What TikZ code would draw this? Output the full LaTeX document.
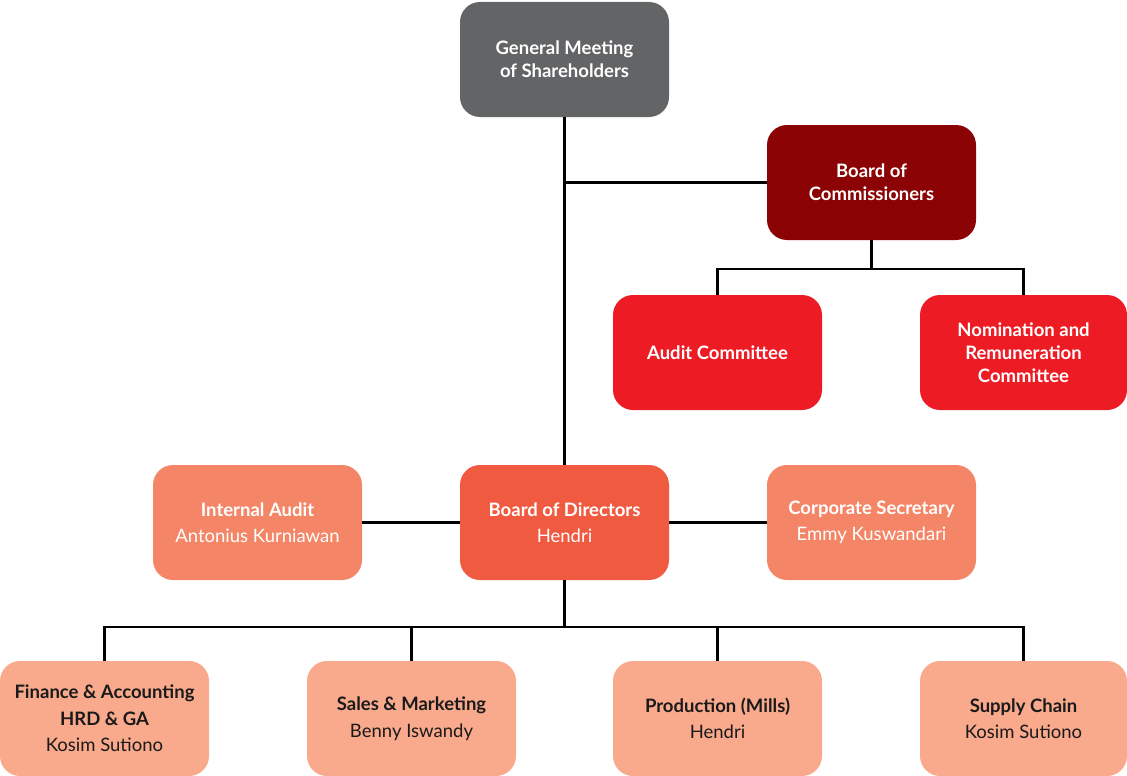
\documentclass[tikz,border=0pt]{standalone}
\usepackage{fontspec}
\setmainfont{Lato}
\definecolor{cgray}{HTML}{636466}
\definecolor{cboc}{HTML}{8B0304}
\definecolor{ccom}{HTML}{ED1C24}
\definecolor{cbod}{HTML}{F05A40}
\definecolor{cside}{HTML}{F48667}
\definecolor{cdiv}{HTML}{F9A98C}
\definecolor{ctext}{HTML}{1A1A1A}
\begin{document}
\begin{tikzpicture}[x=1pt,y=-1pt,
  box/.style={rectangle,rounded corners=20pt,minimum width=209pt,minimum height=115pt,
    inner sep=0pt,align=center,font=\fontsize{18.5}{26.5}\selectfont,text=white},
  titlebox/.style={box,font=\fontsize{18.5}{23}\selectfont},
  divbox/.style={box,fill=cdiv,text=ctext},
  conn/.style={line width=2.6pt}]
\useasboundingbox (0,0) rectangle (1127,776);
\node[titlebox,fill=cgray] (gms) at (564.5,59.5) {\bfseries General Meeting\\\bfseries of Shareholders};
\node[titlebox,fill=cboc] (boc) at (871.5,182.5) {\bfseries Board of\\\bfseries Commissioners};
\node[titlebox,fill=ccom] (ac) at (717.5,352.5) {\bfseries Audit Committee};
\node[titlebox,fill=ccom,minimum width=207pt] (nrc) at (1023.5,352.5) {\bfseries Nomination and\\\bfseries Remuneration\\\bfseries Committee};
\node[box,fill=cside] (ia) at (257.5,522.5) {\bfseries Internal Audit\\Antonius Kurniawan};
\node[box,fill=cbod] (bod) at (564.5,522.5) {\bfseries Board of Directors\\Hendri};
\node[box,fill=cside] (cs) at (871.5,522.5) {\bfseries Corporate Secretary\\Emmy Kuswandari};
\node[divbox] (fin) at (104.5,718.5) {\bfseries Finance \& Accounting\\\bfseries HRD \& GA\\Kosim Sutiono};
\node[divbox] (sal) at (411.5,718.5) {\bfseries Sales \& Marketing\\Benny Iswandy};
\node[divbox] (pro) at (717.5,718.5) {\bfseries Production (Mills)\\Hendri};
\node[divbox,minimum width=207pt] (sup) at (1023.5,718.5) {\bfseries Supply Chain\\Kosim Sutiono};
% connectors
\draw[conn] (gms.south) -- (bod.north);
\draw[conn] (gms.south |- boc.west) -- (boc.west);
\coordinate (cbus) at (871.5,269);
\draw[conn] (boc.south) -- (cbus);
\draw[conn] (ac.north) |- (cbus) -| (nrc.north);
\draw[conn] (ia.east) -- (bod.west);
\draw[conn] (bod.east) -- (cs.west);
\coordinate (dbus) at (564.5,627);
\draw[conn] (bod.south) -- (dbus);
\draw[conn] (fin.north) |- (dbus) -| (sup.north);
\draw[conn] (sal.north) -- (sal.north |- dbus);
\draw[conn] (pro.north) -- (pro.north |- dbus);
\end{tikzpicture}
\end{document}
